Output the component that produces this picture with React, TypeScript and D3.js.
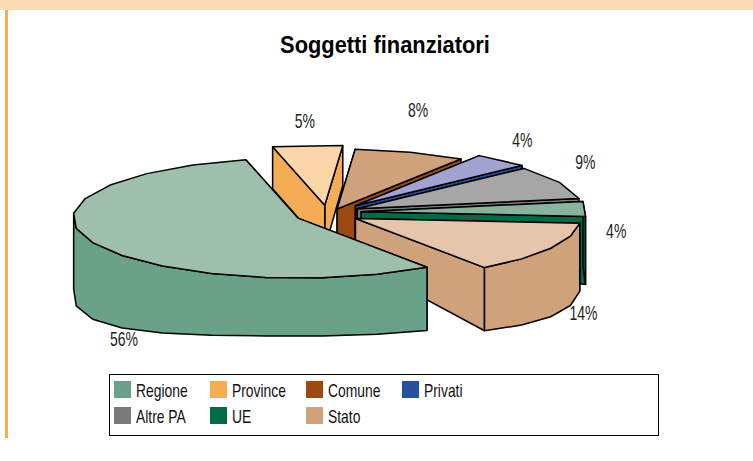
import React from "react";
import * as d3 from "d3";

// ---- data ----
const categories = ["Regione", "Province", "Comune", "Privati", "Altre PA", "UE", "Stato"];
const shares = [56, 5, 8, 4, 9, 4, 14];
const percentLabels = ["56%", "5%", "8%", "4%", "9%", "4%", "14%"];
const topColors = ["#9fbfad", "#fbd6a8", "#cfa27c", "#a2a3d0", "#a6a6a6", "#89b39c", "#e5c6ac"];
const sideColors = ["#69a288", "#f4ac55", "#9c4a10", "#24509e", "#7a7a7a", "#006b47", "#cfa27c"];

// ---- layout ----
const W = 753, H = 461;
const cx = 332, cy = 213, rx = 225, ry = 60;
const explode = [0.166, 0.13, 0.07, 0.16, 0.125, 0.13, 0.115];
const nudgeX = [0, -5, 0, 0, 0, 0, 1];
const nudgeY = [1, 0, 0, 0, -1, -1, 2];
const labelOffsets: [number, number][] = [
  [-174, 128], [-20, -77], [81, -92], [167, -59], [228, -40], [255, 26], [228, 102],
];
const FONT = "'Liberation Sans', sans-serif";
const rad = (d: number) => (d * Math.PI) / 180;
const STEP = rad(14);

const depth = (u: number, v: number) =>
  43 + (v >= 0 ? 15 * v : 3 * v) + (u < 0 ? 33 : 24) * u * u;

const arcs = d3
  .pie<number>()
  .sort(null)
  .startAngle(rad(145))
  .endAngle(rad(505))(shares);

type P = { x: number; y: number; b: number; v: number };

function sliceGeometry(i: number) {
  const a = arcs[i];
  const mid = (a.startAngle + a.endAngle) / 2;
  const ax = cx + explode[i] * rx * Math.sin(mid) + nudgeX[i];
  const ay = cy - explode[i] * ry * Math.cos(mid) + nudgeY[i];
  const at = (t: number, r: number): P => {
    const u = r * Math.sin(t), v = -r * Math.cos(t);
    const x = ax + rx * u, y = ay + ry * v;
    return { x, y, b: y + depth(u, v), v };
  };
  const n = Math.max(1, Math.round((a.endAngle - a.startAngle) / STEP));
  const rim = d3.range(n + 1).map((k) =>
    at(a.startAngle + ((a.endAngle - a.startAngle) * k) / n, 1)
  );
  return { apex: at(0, 0), rim, mid };
}

const poly = (pts: [number, number][]) => d3.line()(pts) + "Z";

function Slice({ i }: { i: number }) {
  const { apex, rim } = sliceGeometry(i);
  const first = rim[0], last = rim[rim.length - 1];
  const cuts = [first, last].sort((p, q) => p.y - q.y);
  const front = rim.filter((p) => p.v >= -0.2);
  const common = { stroke: "#000", strokeWidth: 1.5, strokeLinejoin: "round" as const };
  return (
    <g>
      {cuts.map((p, k) => (
        <path key={k} fill={sideColors[i]} {...common}
          d={poly([[apex.x, apex.y], [p.x, p.y], [p.x, p.b], [apex.x, apex.b]])} />
      ))}
      {front.length > 1 && (
        <path fill={sideColors[i]} {...common}
          d={poly([
            ...front.map((p) => [p.x, p.y] as [number, number]),
            ...front.slice().reverse().map((p) => [p.x, p.b] as [number, number]),
          ])} />
      )}
      <path fill={topColors[i]} {...common}
        d={poly([[apex.x, apex.y], ...rim.map((p) => [p.x, p.y] as [number, number])])} />
    </g>
  );
}

const drawOrder = [1, 2, 3, 4, 5, 6, 0];

const legendX = d3.scaleLinear().domain([0, 1]).range([114, 210]);
const legendY = d3.scaleLinear().domain([0, 1]).range([381, 407]);

function Narrow({ x, y, scale, size, anchor, weight, fill, children }: any) {
  return (
    <text transform={`translate(${x},${y}) scale(${scale},1)`} textAnchor={anchor}
      fontFamily={FONT} fontSize={size} fontWeight={weight} fill={fill}>{children}</text>
  );
}

export default function App() {
  return (
    <svg width={W} height={H} style={{ position: "absolute", left: 0, top: 0, background: "#fff" }}>
      <rect x={0} y={0} width={W} height={10} fill="#fddcb5" />
      <rect x={5} y={10} width={3} height={428} fill="#f7ac55" />
      <Narrow x={385} y={53} scale={0.91} size={24} anchor="middle" weight="bold" fill="#000">
        Soggetti finanziatori
      </Narrow>
      {drawOrder.map((i) => <Slice key={i} i={i} />)}
      {percentLabels.map((t, i) => {
        const { apex } = sliceGeometry(i);
        return (
          <Narrow key={i} x={apex.x + labelOffsets[i][0]} y={apex.y + labelOffsets[i][1]}
            scale={0.7} size={20} anchor="middle" fill="#222">{t}</Narrow>
        );
      })}
      <rect x={109.5} y={374.5} width={549} height={61} fill="#fff" stroke="#000" strokeWidth={1} />
      {categories.map((c, i) => {
        const col = i < 4 ? i : i - 4;
        const row = i < 4 ? 0 : 1;
        return (
          <g key={c}>
            <rect x={legendX(col)} y={legendY(row)} width={17} height={17} fill={sideColors[i]} />
            <Narrow x={legendX(col) + 22} y={legendY(row) + 16} scale={0.75} size={18.5} fill="#111">{c}</Narrow>
          </g>
        );
      })}
    </svg>
  );
}
